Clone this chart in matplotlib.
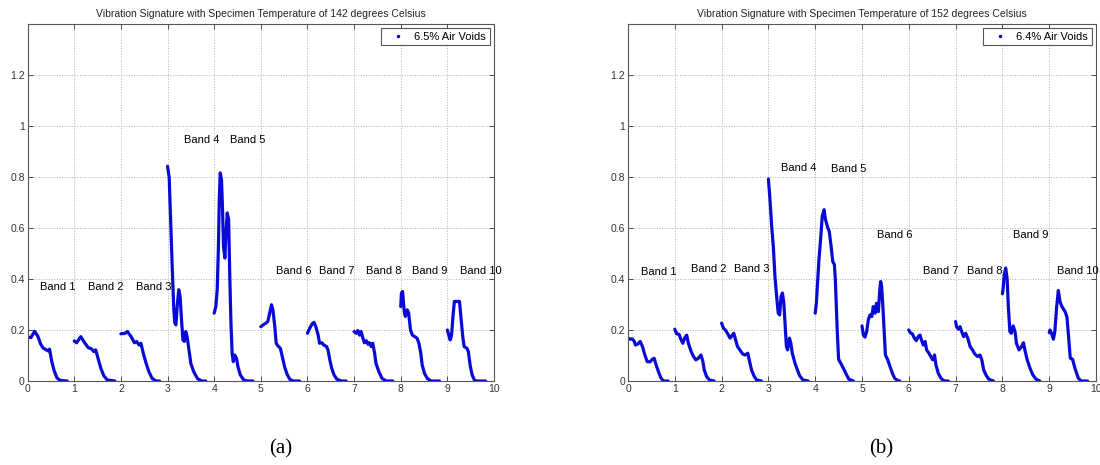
import matplotlib
matplotlib.use("Agg")
import matplotlib.pyplot as plt
from matplotlib.lines import Line2D

plt.rcParams['font.family'] = ['Liberation Sans', 'DejaVu Sans']

# ---------------- Data: panel (a), 142 C ----------------
title_a = "Vibration Signature with Specimen Temperature of 142 degrees Celsius"
legend_a = "6.5% Air Voids"

a1_dx = [0.00, 0.07, 0.15, 0.22, 0.28, 0.33, 0.40, 0.44, 0.47, 0.52, 0.57, 0.63, 0.70, 0.85]
a1_y = [0.172, 0.170, 0.195, 0.175, 0.145, 0.130, 0.122, 0.118, 0.125, 0.075, 0.040, 0.012, 0.002, 0.0]
a2_dx = [0.00, 0.05, 0.14, 0.23, 0.30, 0.37, 0.42, 0.46, 0.51, 0.57, 0.635, 0.71, 0.87]
a2_y = [0.157, 0.150, 0.174, 0.148, 0.131, 0.126, 0.115, 0.122, 0.089, 0.050, 0.020, 0.004, 0.0]
a3_dx = [0.00, 0.09, 0.14, 0.22, 0.29, 0.34, 0.39, 0.43, 0.48, 0.54, 0.60, 0.67, 0.76, 0.83]
a3_y = [0.185, 0.187, 0.194, 0.174, 0.150, 0.155, 0.141, 0.148, 0.109, 0.070, 0.037, 0.010, 0.0, 0.0]
a4_dx = [0.00, 0.035, 0.064, 0.10, 0.135, 0.157, 0.18, 0.207, 0.24, 0.27, 0.30, 0.33, 0.36,
         0.39, 0.42, 0.46, 0.50, 0.56, 0.64, 0.73, 0.82]
a4_y = [0.842, 0.800, 0.646, 0.450, 0.279, 0.227, 0.220, 0.292, 0.358, 0.331, 0.240, 0.161, 0.155,
        0.194, 0.174, 0.122, 0.069, 0.037, 0.010, 0.0, 0.0]
a5_dx = [0.00, 0.036, 0.065, 0.09, 0.11, 0.13, 0.157, 0.18, 0.20, 0.23, 0.25, 0.28, 0.31, 0.335,
         0.36, 0.385, 0.41, 0.44, 0.48, 0.51, 0.56, 0.63, 0.70, 0.83]
a5_y = [0.266, 0.292, 0.358, 0.515, 0.711, 0.816, 0.790, 0.672, 0.528, 0.482, 0.567, 0.659, 0.633, 0.410,
        0.227, 0.109, 0.076, 0.102, 0.089, 0.056, 0.024, 0.005, 0.0, 0.0]
a6_dx = [0.00, 0.05, 0.11, 0.15, 0.19, 0.23, 0.26, 0.30, 0.33, 0.37, 0.42, 0.46, 0.51, 0.56, 0.62, 0.69, 0.83]
a6_y = [0.213, 0.220, 0.227, 0.233, 0.266, 0.299, 0.279, 0.213, 0.148, 0.137, 0.128, 0.096, 0.056,
        0.028, 0.007, 0.0, 0.0]
a7_dx = [0.00, 0.05, 0.10, 0.14, 0.18, 0.23, 0.26, 0.31, 0.35, 0.41, 0.44, 0.48, 0.52, 0.57, 0.63, 0.73, 0.83]
a7_y = [0.187, 0.207, 0.224, 0.230, 0.213, 0.180, 0.148, 0.150, 0.141, 0.135, 0.122, 0.083, 0.050,
        0.024, 0.007, 0.0, 0.0]
a8_dx = [0.00, 0.05, 0.08, 0.12, 0.15, 0.19, 0.22, 0.26, 0.30, 0.33, 0.37, 0.40, 0.44, 0.47, 0.53,
         0.60, 0.69, 0.83]
a8_y = [0.194, 0.187, 0.198, 0.180, 0.194, 0.168, 0.150, 0.158, 0.144, 0.150, 0.135, 0.148, 0.109,
        0.069, 0.037, 0.010, 0.0, 0.0]
a9_dx = [0.00, 0.015, 0.04, 0.06, 0.08, 0.10, 0.14, 0.17, 0.21, 0.25, 0.30, 0.35, 0.39, 0.43, 0.46,
         0.51, 0.57, 0.65, 0.83]
a9_y = [0.292, 0.345, 0.351, 0.305, 0.266, 0.253, 0.279, 0.266, 0.200, 0.180, 0.174, 0.168, 0.148,
        0.109, 0.063, 0.030, 0.010, 0.0, 0.0]
a10_dx = [0.00, 0.03, 0.06, 0.09, 0.12, 0.15, 0.19, 0.22, 0.26, 0.29, 0.33, 0.36, 0.42, 0.45, 0.49,
          0.53, 0.58, 0.63, 0.82]
a10_y = [0.200, 0.180, 0.161, 0.180, 0.253, 0.312, 0.312, 0.312, 0.312, 0.253, 0.174, 0.135, 0.128,
         0.115, 0.060, 0.025, 0.003, 0.0, 0.0]

a_label_x = [0.27, 1.29, 2.32, 3.35, 4.35, 5.32, 6.24, 7.25, 8.25, 9.27]
a_label_y = [0.37, 0.367, 0.367, 0.945, 0.945, 0.433, 0.433, 0.433, 0.433, 0.433]

# ---------------- Data: panel (b), 152 C ----------------
title_b = "Vibration Signature with Specimen Temperature of 152 degrees Celsius"
legend_b = "6.4% Air Voids"

b1_dx = [0.00, 0.04, 0.09, 0.135, 0.16, 0.21, 0.26, 0.31, 0.36, 0.41, 0.47, 0.52, 0.56, 0.60, 0.65,
         0.70, 0.755, 0.86]
b1_y = [0.168, 0.164, 0.165, 0.155, 0.141, 0.145, 0.155, 0.135, 0.102, 0.076, 0.075, 0.085, 0.089,
        0.063, 0.037, 0.013, 0.0, 0.0]
b2_dx = [0.00, 0.04, 0.09, 0.13, 0.17, 0.22, 0.255, 0.29, 0.35, 0.40, 0.45, 0.50, 0.56, 0.60, 0.63,
         0.68, 0.74, 0.84]
b2_y = [0.203, 0.185, 0.183, 0.164, 0.148, 0.172, 0.180, 0.148, 0.115, 0.096, 0.083, 0.089, 0.102,
        0.076, 0.043, 0.017, 0.004, 0.0]
b3_dx = [0.00, 0.04, 0.09, 0.145, 0.18, 0.23, 0.26, 0.30, 0.34, 0.39, 0.45, 0.50, 0.56, 0.59, 0.64,
         0.70, 0.75, 0.85]
b3_y = [0.227, 0.207, 0.198, 0.180, 0.168, 0.180, 0.187, 0.161, 0.135, 0.122, 0.106, 0.102, 0.109,
        0.083, 0.043, 0.017, 0.004, 0.0]
b4_dx = [0.00, 0.034, 0.07, 0.105, 0.14, 0.176, 0.21, 0.24, 0.27, 0.30, 0.33, 0.36, 0.385, 0.41,
         0.45, 0.48, 0.51, 0.57, 0.62, 0.67, 0.74, 0.85]
b4_y = [0.792, 0.711, 0.606, 0.528, 0.410, 0.331, 0.266, 0.259, 0.331, 0.345, 0.305, 0.213, 0.135,
        0.122, 0.168, 0.148, 0.109, 0.069, 0.043, 0.020, 0.004, 0.0]
b5_dx = [0.00, 0.025, 0.05, 0.08, 0.12, 0.15, 0.19, 0.22, 0.27, 0.30, 0.34, 0.375, 0.41, 0.43, 0.47,
         0.50, 0.53, 0.565, 0.62, 0.67, 0.72, 0.815]
b5_y = [0.266, 0.305, 0.384, 0.475, 0.567, 0.646, 0.672, 0.633, 0.600, 0.587, 0.528, 0.469, 0.456,
        0.400, 0.200, 0.085, 0.075, 0.063, 0.043, 0.024, 0.007, 0.0]
b6_dx = [0.00, 0.03, 0.064, 0.10, 0.135, 0.17, 0.21, 0.24, 0.28, 0.31, 0.35, 0.38, 0.40, 0.42, 0.45,
         0.48, 0.50, 0.55, 0.60, 0.65, 0.70, 0.78, 0.81]
b6_y = [0.216, 0.180, 0.172, 0.194, 0.240, 0.259, 0.253, 0.292, 0.266, 0.305, 0.272, 0.358, 0.390,
        0.370, 0.279, 0.174, 0.102, 0.083, 0.056, 0.030, 0.010, 0.0, 0.0]
b7_dx = [0.00, 0.03, 0.075, 0.12, 0.16, 0.20, 0.24, 0.27, 0.31, 0.35, 0.38, 0.43, 0.47, 0.51, 0.55,
         0.58, 0.63, 0.69, 0.76, 0.845]
b7_y = [0.200, 0.190, 0.185, 0.168, 0.158, 0.174, 0.180, 0.161, 0.141, 0.155, 0.122, 0.109, 0.096,
        0.083, 0.102, 0.063, 0.030, 0.010, 0.0, 0.0]
b8_dx = [0.00, 0.02, 0.06, 0.095, 0.13, 0.17, 0.215, 0.26, 0.31, 0.36, 0.41, 0.47, 0.52, 0.56, 0.60,
         0.66, 0.71, 0.81]
b8_y = [0.233, 0.213, 0.203, 0.213, 0.194, 0.174, 0.187, 0.168, 0.135, 0.122, 0.106, 0.096, 0.102,
        0.083, 0.043, 0.020, 0.007, 0.0]
b9_dx = [0.00, 0.013, 0.04, 0.07, 0.10, 0.127, 0.16, 0.19, 0.23, 0.27, 0.30, 0.355, 0.41, 0.45, 0.48,
         0.53, 0.59, 0.65, 0.72, 0.80]
b9_y = [0.342, 0.358, 0.417, 0.443, 0.403, 0.292, 0.194, 0.187, 0.216, 0.194, 0.148, 0.122, 0.135,
        0.150, 0.122, 0.083, 0.050, 0.024, 0.007, 0.0]
b10_dx = [0.00, 0.017, 0.05, 0.09, 0.12, 0.16, 0.195, 0.23, 0.27, 0.34, 0.38, 0.42, 0.45, 0.50, 0.55,
          0.62, 0.68, 0.82]
b10_y = [0.190, 0.200, 0.187, 0.164, 0.194, 0.292, 0.355, 0.312, 0.292, 0.272, 0.250, 0.160, 0.090,
         0.085, 0.050, 0.012, 0.0, 0.0]

b_label_x = [0.28, 1.35, 2.27, 3.27, 4.33, 5.31, 6.31, 7.24, 8.23, 9.16]
b_label_y = [0.427, 0.439, 0.439, 0.836, 0.83, 0.571, 0.433, 0.433, 0.571, 0.433]

band_names = ["Band 1", "Band 2", "Band 3", "Band 4", "Band 5",
              "Band 6", "Band 7", "Band 8", "Band 9", "Band 10"]
x_ticks = [0, 1, 2, 3, 4, 5, 6, 7, 8, 9, 10]
y_ticks = [0, 0.2, 0.4, 0.6, 0.8, 1.0, 1.2]
y_ticklabels = ["0", "0.2", "0.4", "0.6", "0.8", "1", "1.2"]

a_dx = [a1_dx, a2_dx, a3_dx, a4_dx, a5_dx, a6_dx, a7_dx, a8_dx, a9_dx, a10_dx]
a_y = [a1_y, a2_y, a3_y, a4_y, a5_y, a6_y, a7_y, a8_y, a9_y, a10_y]
b_dx = [b1_dx, b2_dx, b3_dx, b4_dx, b5_dx, b6_dx, b7_dx, b8_dx, b9_dx, b10_dx]
b_y = [b1_y, b2_y, b3_y, b4_y, b5_y, b6_y, b7_y, b8_y, b9_y, b10_y]

LINE_COLOR = "#0a0ad6"
FS = 7.5

fig = plt.figure(figsize=(11, 4.65), dpi=100)
W, H = 1100.0, 465.0


def make_axes(left_px, right_px, top_px, bottom_px):
    return fig.add_axes([left_px / W, 1 - bottom_px / H,
                         (right_px - left_px) / W, (bottom_px - top_px) / H])


def draw_panel(ax, dxs, ys, lab_x, lab_y, title, legend_text):
    for k in range(len(dxs)):
        ax.plot([k + d for d in dxs[k]], ys[k], color=LINE_COLOR, lw=2.3,
                solid_capstyle='round', solid_joinstyle='round')
        ax.text(lab_x[k], lab_y[k], band_names[k], fontsize=8, ha='left', va='center', color='black')
    ax.set_xlim(0, 10)
    ax.set_ylim(0, 1.4)
    ax.set_xticks(x_ticks)
    ax.set_xticklabels([str(t) for t in x_ticks])
    ax.set_yticks(y_ticks)
    ax.set_yticklabels(y_ticklabels)
    ax.tick_params(direction='in', length=3.5, width=0.6, labelsize=FS, colors='#333333',
                   top=True, right=True, pad=2)
    ax.grid(True, linestyle=':', color='#b0b0b0', linewidth=0.7)
    for s in ax.spines.values():
        s.set_color('#555555')
        s.set_linewidth(0.8)
    ax.set_title(title, fontsize=FS, pad=5, color='#222222')
    h = Line2D([], [], marker='.', ls='none', color=LINE_COLOR, markersize=3)
    leg = ax.legend([h], [legend_text], loc='upper right', fontsize=8, fancybox=False,
                    framealpha=1, edgecolor='#555555', borderaxespad=0.4,
                    handlelength=2.4, handletextpad=0.3, borderpad=0.3)
    leg.get_frame().set_linewidth(0.8)


ax_a = make_axes(27.6, 494, 24, 381)
draw_panel(ax_a, a_dx, a_y, a_label_x, a_label_y, title_a, legend_a)
ax_b = make_axes(628, 1096, 24, 381)
draw_panel(ax_b, b_dx, b_y, b_label_x, b_label_y, title_b, legend_b)

fig.text(281 / W, 1 - 449 / H, "(a)", fontsize=15, family=['Liberation Serif', 'DejaVu Serif'],
         ha='center', va='center')
fig.text(881 / W, 1 - 449 / H, "(b)", fontsize=15, family=['Liberation Serif', 'DejaVu Serif'],
         ha='center', va='center')

fig.savefig("out.png", dpi=100)
